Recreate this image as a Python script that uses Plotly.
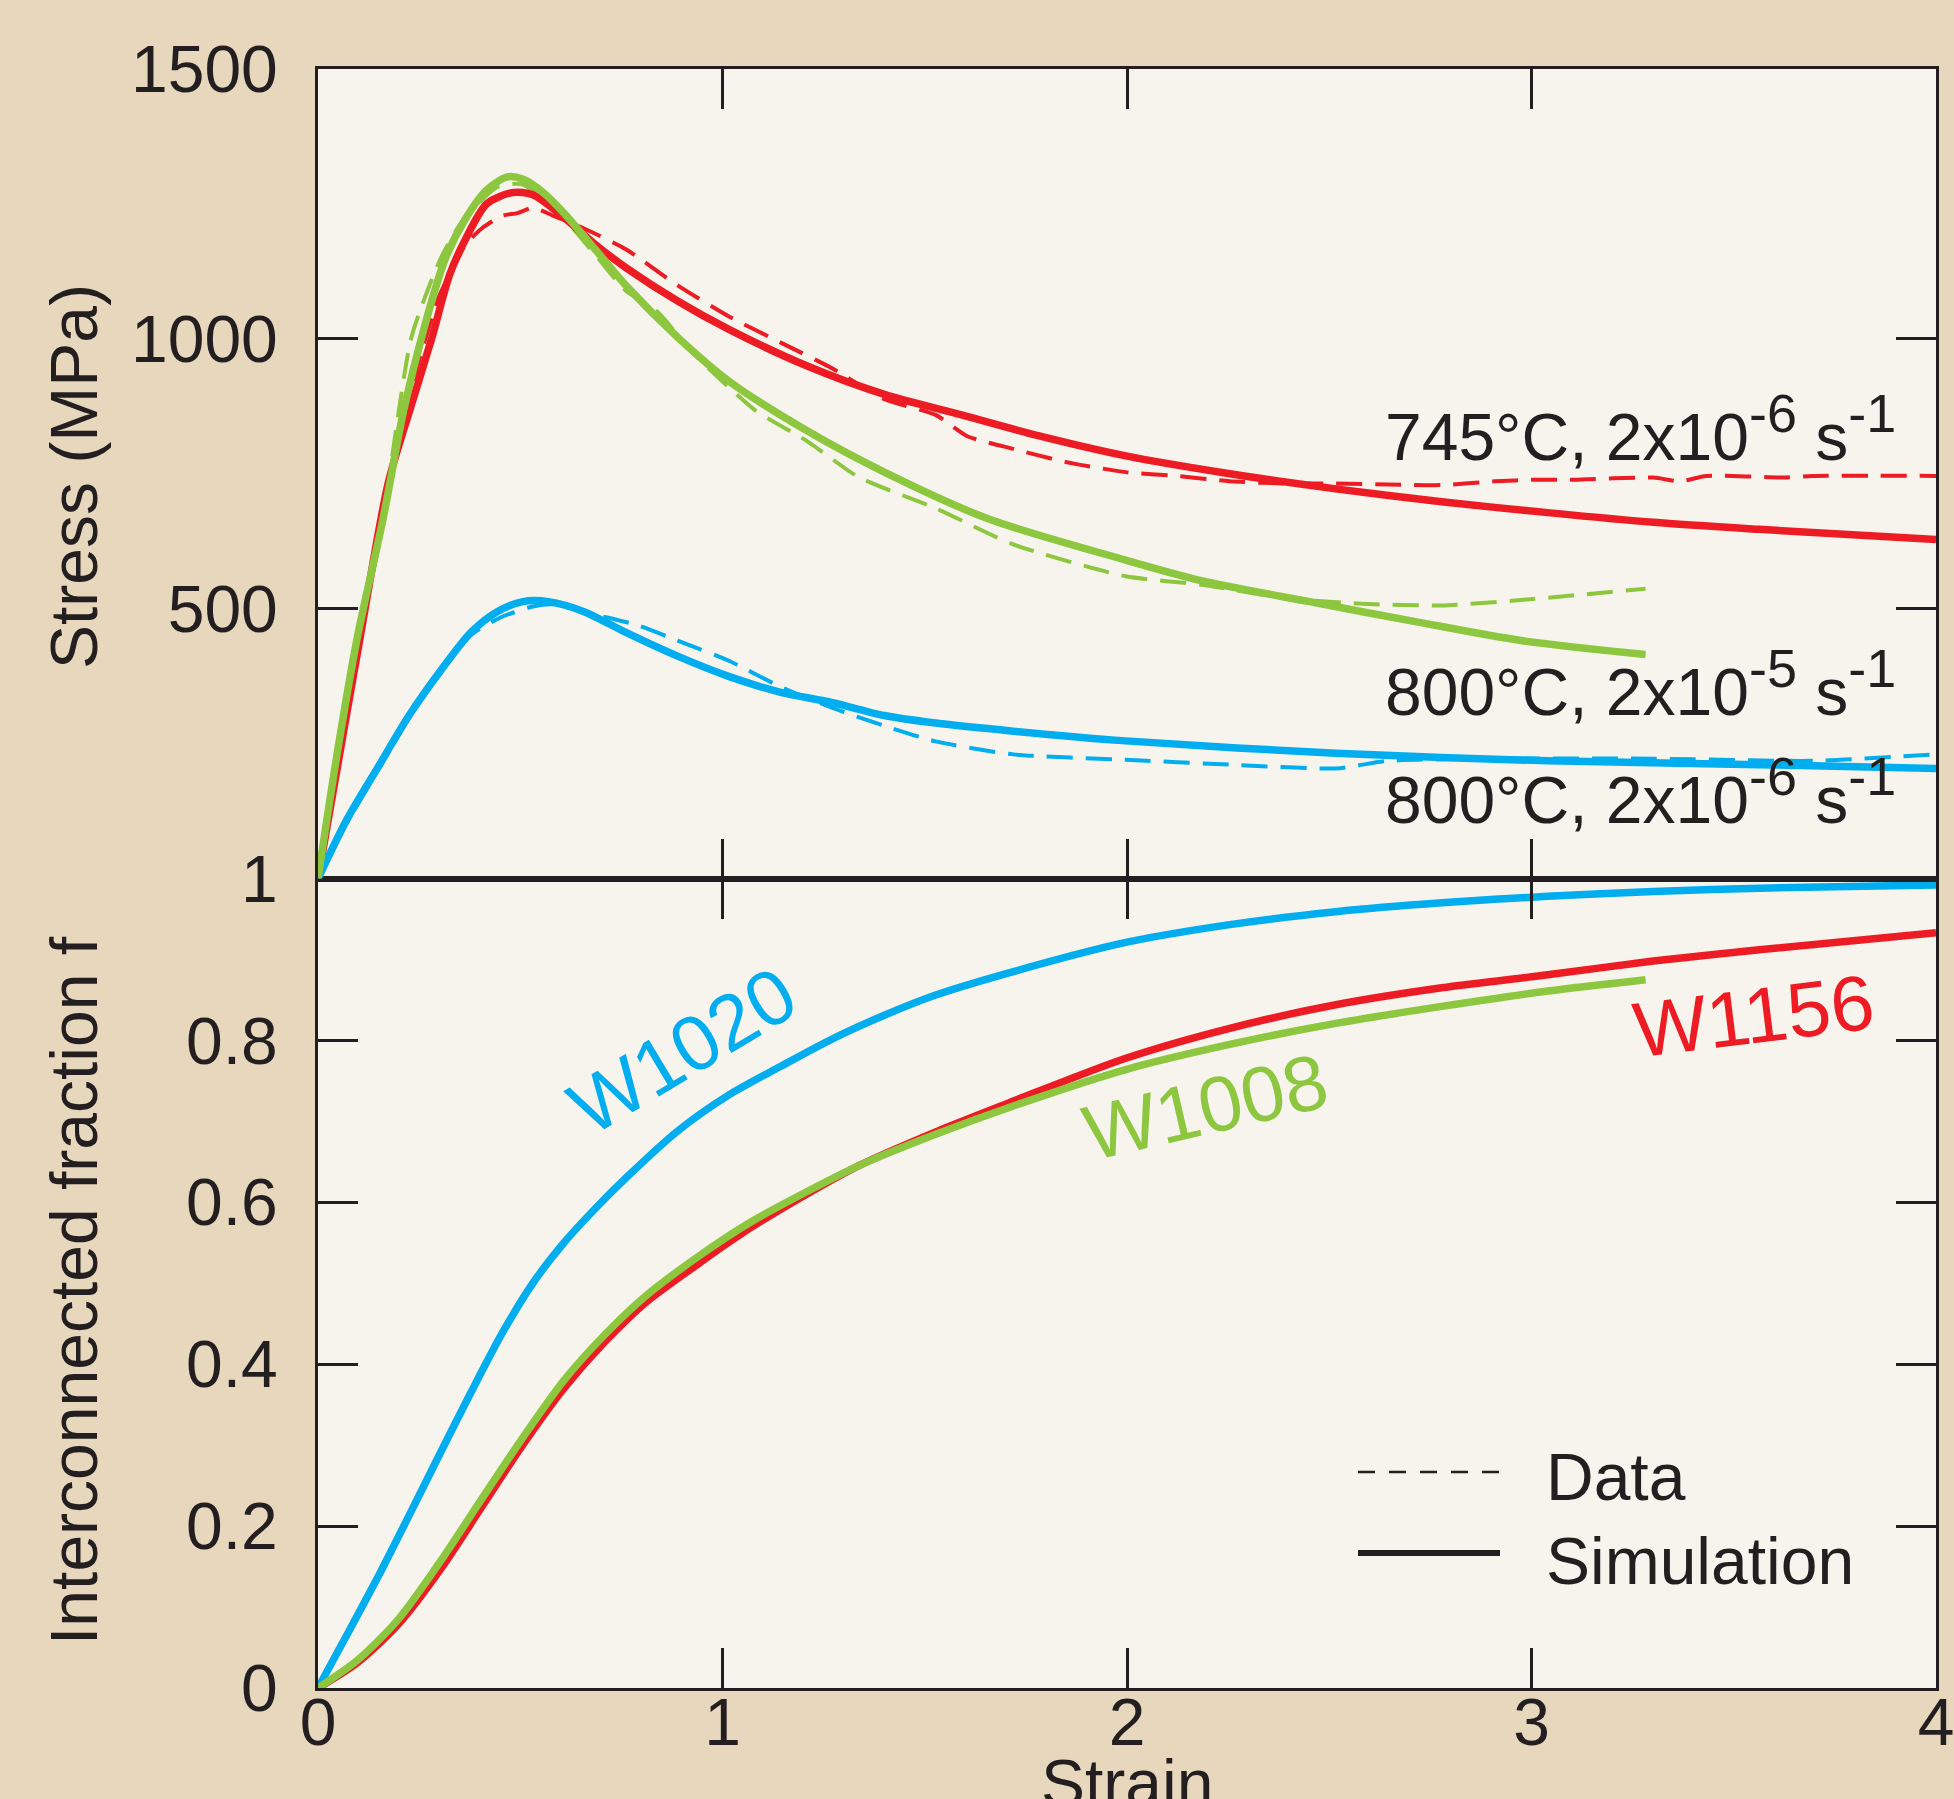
import plotly.graph_objects as go

# ---------------- data ----------------
# Stress-strain, 745C 2e-6 /s (red)
red_sim_strain = [0, 0.05, 0.104, 0.174, 0.23, 0.282, 0.325, 0.365, 0.417, 0.48, 0.531, 0.595, 0.685, 0.761,
                  0.889, 1.017, 1.208, 1.400, 1.591, 1.783, 1.997, 2.254, 2.516, 2.778, 3.040, 3.301, 3.563, 4.0]
red_sim_stress = [0, 215, 446, 734, 875, 1003, 1118, 1185, 1250, 1271, 1267, 1233, 1175, 1132,
                  1070, 1017, 950, 897, 859, 820, 783, 750, 722, 698, 678, 660, 647, 628]
red_dat_strain = [0, 0.05, 0.1, 0.17, 0.25, 0.3, 0.34, 0.365, 0.404, 0.455, 0.493, 0.531, 0.582, 0.659, 0.761,
                  0.889, 1.017, 1.144, 1.272, 1.400, 1.527, 1.604, 1.719, 1.847, 1.997, 2.123, 2.254, 2.385,
                  2.516, 2.647, 2.778, 2.909, 3.013, 3.105, 3.301, 3.367, 3.432, 3.629, 3.694, 4.0]
red_dat_stress = [0, 215, 430, 720, 960, 1080, 1140, 1175, 1204, 1228, 1233, 1243, 1228, 1204, 1166,
                  1099, 1041, 993, 945, 888, 859, 820, 796, 772, 753, 746, 736, 732,
                  732, 730, 729, 736, 739, 739, 743, 736, 746, 743, 746, 746]

# 800C 2e-5 /s (green)
grn_sim_strain = [0, 0.046, 0.097, 0.161, 0.212, 0.263, 0.314, 0.365, 0.417, 0.468, 0.506, 0.557, 0.608,
                  0.685, 0.761, 0.889, 1.017, 1.208, 1.400, 1.655, 1.997, 2.189, 2.451, 2.713, 2.974, 3.282]
grn_sim_stress = [0, 225, 446, 667, 868, 1022, 1147, 1223, 1276, 1300, 1296, 1271, 1233,
                  1166, 1099, 1003, 921, 830, 753, 667, 590, 551, 513, 476, 441, 415]
grn_dat_strain = [0, 0.05, 0.1, 0.155, 0.231, 0.302, 0.353, 0.442, 0.506, 0.608, 0.685, 0.761, 0.838, 0.927,
                  1.080, 1.208, 1.336, 1.527, 1.719, 1.997, 2.189, 2.385, 2.581, 2.778, 2.974, 3.282]
grn_dat_stress = [0, 220, 430, 638, 1003, 1147, 1214, 1281, 1286, 1223, 1156, 1089, 1051, 974,
                  868, 811, 744, 686, 619, 560, 544, 520, 509, 506, 516, 537]

# 800C 2e-6 /s (blue)
blu_sim_strain = [0, 0.072, 0.148, 0.225, 0.302, 0.378, 0.442, 0.506, 0.570, 0.659, 0.761, 0.889, 1.017,
                  1.144, 1.272, 1.400, 1.527, 1.719, 1.997, 2.516, 3.040, 3.563, 4.0]
blu_sim_stress = [0, 110, 206, 302, 384, 456, 494, 513, 513, 494, 456, 412, 374,
                  345, 326, 302, 288, 273, 255, 232, 218, 211, 204]
blu_dat_strain = [0, 0.072, 0.148, 0.225, 0.302, 0.378, 0.455, 0.531, 0.582, 0.685, 0.787, 0.889, 1.017,
                  1.144, 1.272, 1.400, 1.527, 1.719, 1.997, 2.254, 2.516, 2.647, 2.909, 3.301, 3.694, 4.0]
blu_dat_stress = [0, 105, 200, 298, 380, 451, 485, 504, 508, 489, 470, 441, 403,
                  355, 316, 283, 254, 230, 220, 211, 204, 218, 222, 222, 218, 230]

# Interconnected fraction f
w1020_strain = [0, 0.072, 0.148, 0.225, 0.302, 0.378, 0.455, 0.531, 0.608, 0.685, 0.761, 0.889, 1.017,
                1.144, 1.272, 1.400, 1.527, 1.719, 1.997, 2.254, 2.516, 2.778, 3.040, 3.301, 3.563, 4.0]
w1020_f = [0, 0.066, 0.137, 0.213, 0.290, 0.365, 0.438, 0.500, 0.550, 0.592, 0.630, 0.688, 0.733,
           0.768, 0.802, 0.831, 0.856, 0.885, 0.921, 0.943, 0.959, 0.970, 0.978, 0.984, 0.988, 0.992]
w1008_strain = [0, 0.097, 0.199, 0.302, 0.404, 0.506, 0.608, 0.710, 0.812, 0.940, 1.068, 1.208, 1.336,
                1.527, 1.719, 1.997, 2.254, 2.516, 2.778, 3.040, 3.282]
w1008_f = [0, 0.034, 0.085, 0.156, 0.233, 0.309, 0.380, 0.437, 0.485, 0.533, 0.575, 0.613, 0.645,
           0.684, 0.719, 0.764, 0.795, 0.821, 0.842, 0.861, 0.875]
w1156_strain = [0, 0.097, 0.199, 0.302, 0.404, 0.506, 0.608, 0.710, 0.812, 0.940, 1.068, 1.208, 1.336,
                1.527, 1.719, 1.997, 2.254, 2.516, 2.778, 3.040, 3.301, 3.563, 4.0]
w1156_f = [0, 0.031, 0.079, 0.146, 0.223, 0.300, 0.370, 0.428, 0.477, 0.524, 0.568, 0.610, 0.645,
           0.687, 0.725, 0.778, 0.815, 0.844, 0.865, 0.881, 0.898, 0.912, 0.933]

x_ticks = [0, 1, 2, 3, 4]
stress_ticks = [500, 1000, 1500]
f_ticks = [0, 0.2, 0.4, 0.6, 0.8, 1]
f_tick_text = ["0", "0.2", "0.4", "0.6", "0.8", "1"]

SUP = '<sup><span style="font-size:54px">{}</span></sup>'
cond_labels = ["745°C, 2x10" + SUP.format("-6") + " s" + SUP.format("-1"),
               "800°C, 2x10" + SUP.format("-5") + " s" + SUP.format("-1"),
               "800°C, 2x10" + SUP.format("-6") + " s" + SUP.format("-1")]
alloy_labels = ["W1020", "W1008", "W1156"]
legend_labels = ["Data", "Simulation"]
x_title = "Strain"
y_titles = ["Stress (MPa)", "Interconnected fraction f"]

# ---------------- style ----------------
RED = "#ed1c24"
GRN = "#8dc63f"
BLU = "#00aeef"
INK = "#231f20"
FONT = "Liberation Sans, Arial, sans-serif"

fig = go.Figure()

def add(x, y, color, dashed, top):
    fig.add_trace(go.Scatter(
        x=x, y=y, mode="lines",
        xaxis="x2" if top else "x", yaxis="y2" if top else "y",
        line=dict(color=color, width=4 if dashed else 7.5,
                  dash="26px,13px" if dashed else "solid",
                  shape="spline", smoothing=0.6 if dashed else 0.8),
        showlegend=False, hoverinfo="skip"))

add(red_dat_strain, red_dat_stress, RED, True, True)
add(grn_dat_strain, grn_dat_stress, GRN, True, True)
add(blu_dat_strain, blu_dat_stress, BLU, True, True)
add(red_sim_strain, red_sim_stress, RED, False, True)
add(blu_sim_strain, blu_sim_stress, BLU, False, True)
add(grn_sim_strain, grn_sim_stress, GRN, False, True)

add(w1020_strain, w1020_f, BLU, False, False)
add(w1156_strain, w1156_f, RED, False, False)
add(w1008_strain, w1008_f, GRN, False, False)

axis_common = dict(showline=True, linewidth=3, linecolor=INK, mirror="ticks",
                   ticks="inside", ticklen=40, tickwidth=2.5, tickcolor=INK,
                   showgrid=False, zeroline=False, automargin=False,
                   ticklabeloverflow="allow",
                   tickfont=dict(family=FONT, size=66, color=INK))

W, H = 1954, 1799
L, R, T, B = 318, 18, 69, 111

fig.update_layout(
    width=W, height=H,
    margin=dict(l=L, r=R, t=T, b=B, autoexpand=False),
    paper_bgcolor="#e6d7bd",
    plot_bgcolor="#f7f4ed",
    showlegend=False,
    font=dict(family=FONT, size=66, color=INK),
    xaxis=dict(domain=[0, 1], anchor="y", range=[0, 4], tickvals=x_ticks,
               ticklabelstandoff=-25, **axis_common),
    yaxis=dict(domain=[0, 0.5], anchor="x", range=[0, 1], tickvals=f_ticks, ticktext=f_tick_text,
               ticklabelstandoff=24, **axis_common),
    xaxis2=dict(domain=[0, 1], anchor="y2", matches="x", range=[0, 4], tickvals=x_ticks,
                showticklabels=False, **axis_common),
    yaxis2=dict(domain=[0.5, 1], anchor="x2", range=[0, 1500], tickvals=stress_ticks,
                ticklabelstandoff=24, **axis_common),
)

pw = W - L - R
ph = H - T - B
def px(X):
    return (X - L) / pw
def py(Y):
    return (H - B - Y) / ph

ann = []
# axis titles
ann.append(dict(text=x_title, xref="paper", yref="paper", x=0.5, y=py(1744),
                showarrow=False, xanchor="center", yanchor="top",
                font=dict(family=FONT, size=66, color=INK)))
for t, yc in zip(y_titles, [477, 1291]):
    ann.append(dict(text=t, xref="paper", yref="paper", x=px(74), y=py(yc),
                    textangle=-90, showarrow=False, xanchor="center", yanchor="middle",
                    font=dict(family=FONT, size=66, color=INK)))
# condition labels (top panel)
cond_pos = [(2.633, 834), (2.633, 361), (2.633, 162)]
for t, (xx, yy) in zip(cond_labels, cond_pos):
    ann.append(dict(text=t, xref="x2", yref="y2", x=xx, y=yy, showarrow=False,
                    xanchor="left", yanchor="middle",
                    font=dict(family=FONT, size=66, color=INK)))
# alloy labels (bottom panel)
alloy_pos = [(0.900, 0.787, -31, BLU), (2.193, 0.718, -13, GRN), (3.548, 0.830, -7, RED)]
for t, (xx, yy, ang, c) in zip(alloy_labels, alloy_pos):
    ann.append(dict(text=t, xref="x", yref="y", x=xx, y=yy, showarrow=False, textangle=ang,
                    xanchor="center", yanchor="middle",
                    font=dict(family=FONT, size=78, color=c)))
# legend text
leg_y = [1477, 1561]
for t, yy in zip(legend_labels, leg_y):
    ann.append(dict(text=t, xref="paper", yref="paper", x=px(1544), y=py(yy), showarrow=False,
                    xanchor="left", yanchor="middle",
                    font=dict(family=FONT, size=66, color=INK)))
fig.update_layout(annotations=ann)

# legend samples
fig.update_layout(shapes=[
    dict(type="line", xref="paper", yref="paper", x0=px(1358), x1=px(1500), y0=py(1472), y1=py(1472),
         line=dict(color=INK, width=2.5, dash="17px,14px")),
    dict(type="line", xref="paper", yref="paper", x0=px(1358), x1=px(1500), y0=py(1553), y1=py(1553),
         line=dict(color=INK, width=6)),
])

fig.write_html("out.html", config={"displayModeBar": False},
               post_script="document.body.style.margin='0px';document.body.style.overflow='hidden';")
